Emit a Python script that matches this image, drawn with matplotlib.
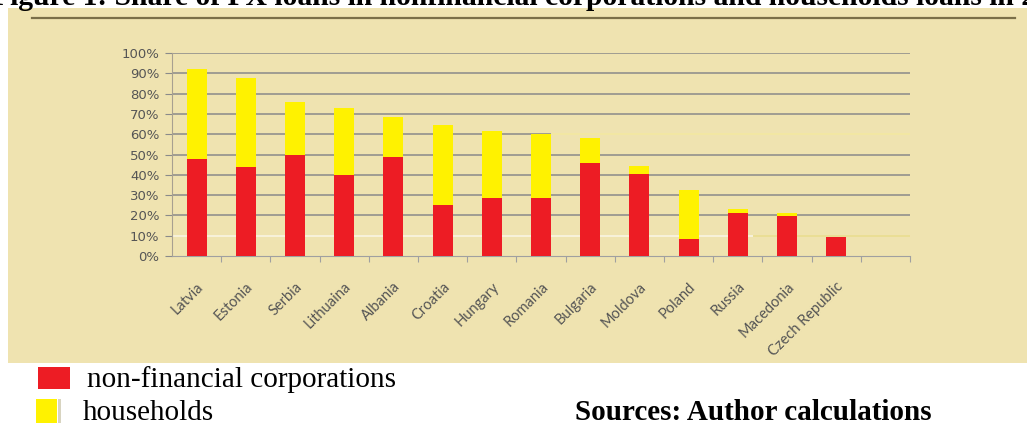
import matplotlib.pyplot as plt
from matplotlib.patches import Rectangle
from matplotlib.lines import Line2D
from matplotlib.ticker import PercentFormatter

# share of FX loans, % of total loans
countries = ["Latvia", "Estonia", "Serbia", "Lithuaina", "Albania", "Croatia",
             "Hungary", "Romania", "Bulgaria", "Moldova", "Poland", "Russia",
             "Macedonia", "Czech Republic", ""]
corporations = [48, 44, 50, 40, 49, 25, 28.5, 28.5, 46, 40.5, 8.5, 21, 19.5, 9.5, 0]
households = [44, 43.5, 26, 33, 19.5, 39.5, 33, 31.5, 12, 4, 24, 2, 1.5, 0, 0]

red = "#ED1C24"
yellow = "#FFF200"
panel = "#EFE3B0"
grey = "#555555"

fig = plt.figure(figsize=(10.27, 4.24), dpi=100)
fig.patch.set_facecolor("white")

# beige panel behind the chart
fig.patches.append(Rectangle((8 / 1027, 61 / 424), 1.0, 355 / 424,
                             transform=fig.transFigure, facecolor=panel,
                             edgecolor="none", zorder=-2))
fig.lines.append(Line2D([32 / 1027, 1015 / 1027], [1 - 18 / 424, 1 - 18 / 424],
                        transform=fig.transFigure, color="#7A6F48", lw=1.6))

ax = fig.add_axes([172 / 1027, 1 - 256 / 424, 738 / 1027, 203 / 424])
ax.set_facecolor(panel)

x = range(len(countries))
ax.bar(x, corporations, width=0.41, color=red, zorder=3)
ax.bar(x, households, width=0.41, bottom=corporations, color=yellow, zorder=3)

n = len(countries)
ax.set_xlim(-0.5, n - 0.5)
ax.set_ylim(0, 100)
ax.set_yticks(range(0, 101, 10))
ax.yaxis.set_major_formatter(PercentFormatter(decimals=0))

# gridlines; the 10% and 60% lines fade out towards the right
for v in range(20, 101, 10):
    if v == 60:
        ax.hlines(v, -0.5, 7.2, color="#8A8A8A", lw=1.1, zorder=1)
        ax.hlines(v, 7.2, n - 0.5, color="#F3E9A0", lw=1.1, zorder=1)
    else:
        ax.hlines(v, -0.5, n - 0.5, color="#8A8A8A", lw=1.1, zorder=1)
ax.hlines(10, -0.5, 11.3, color="#FAF6E6", lw=1.1, zorder=1)
ax.hlines(10, 11.3, n - 0.5, color="#E9DD8E", lw=1.1, zorder=1)

ax.set_xticks([i + 0.5 for i in x], minor=False)
ax.set_xticklabels([])
ax.set_xticks(list(x), minor=True)
ax.set_xticklabels(countries, minor=True, rotation=45, ha="right",
                   rotation_mode="anchor", fontsize=10.5, color=grey, family="Lato")
ax.tick_params(axis="x", which="minor", length=0, pad=17)
ax.tick_params(axis="x", which="major", length=4, color="#A0A0A0", direction="out")
ax.tick_params(axis="y", length=5, color="#8A8A8A", labelsize=9.5,
               labelcolor=grey, pad=4)
for lab in ax.get_yticklabels():
    lab.set_family("DejaVu Sans")

for s in ["top", "right"]:
    ax.spines[s].set_visible(False)
ax.spines["left"].set_color("#A8A090")
ax.spines["bottom"].set_color("#A0A0A0")

# title line cut at the top edge
fig.text(-0.008, 1 - 5 / 424,
         "Figure 1: Share of FX loans in nonfinancial corporations and households loans in 2010",
         family="Liberation Serif", fontweight="bold", fontsize=21.3, va="baseline")

# legend drawn under the panel
fig.patches.append(Rectangle((38 / 1027, 1 - 389 / 424), 32 / 1027, 22 / 424,
                             transform=fig.transFigure, facecolor=red,
                             edgecolor="none"))
fig.patches.append(Rectangle((36 / 1027, 1 - 423 / 424), 21 / 1027, 24 / 424,
                             transform=fig.transFigure, facecolor=yellow,
                             edgecolor="none"))
fig.patches.append(Rectangle((58 / 1027, 1 - 423 / 424), 3 / 1027, 24 / 424,
                             transform=fig.transFigure, facecolor="#D8D4C0",
                             edgecolor="none"))
fig.text(87 / 1027, 1 - 380 / 424, "non-financial corporations",
         family="Liberation Serif", fontsize=21, va="center")
fig.text(83 / 1027, 1 - 413 / 424, "households",
         family="Liberation Serif", fontsize=21, va="center")
fig.text(575 / 1027, 1 - 413 / 424, "Sources: Author calculations",
         family="Liberation Serif", fontweight="bold", fontsize=21, va="center")

fig.savefig("out.png", dpi=100)
